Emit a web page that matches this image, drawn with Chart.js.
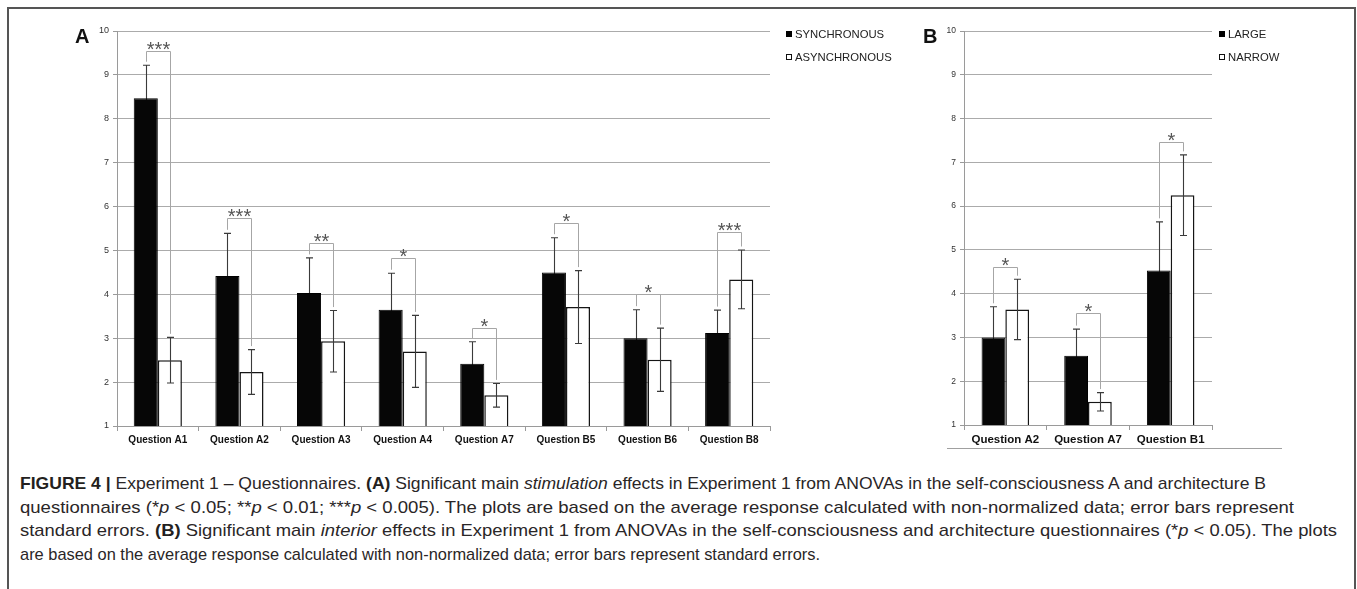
<!DOCTYPE html>
<html>
<head>
<meta charset="utf-8">
<script src="https://cdn.jsdelivr.net/npm/chart.js@4.4.0/dist/chart.umd.min.js"></script>
<style>
  html, body { margin:0; padding:0; background:#fff; }
  body { width:1357px; height:589px; position:relative; overflow:hidden; font-family:'Liberation Sans', Arial, sans-serif; }
  #frame { position:absolute; left:7px; top:7px; width:1345px; height:700px; border-top:2px solid #555; border-left:2px solid #555; border-right:2px solid #555; }
  canvas { position:absolute; top:0; }
  #cA { left:0; }
  #cB { left:880px; }
  .panel { position:absolute; font-weight:bold; font-size:20px; color:#111; line-height:20px; }
  #lineB { position:absolute; left:947px; top:448px; width:335px; height:1px; background:#a0a0a0; }
  .cap { position:absolute; left:20px; white-space:nowrap; font-family:'Liberation Sans',Arial,sans-serif; font-size:17px; line-height:20px; color:#2a2627; transform-origin:0 50%; }
  .cap b { font-weight:bold; color:#231f20; }
</style>
</head>
<body>
<div id="frame"></div>
<canvas id="cA" width="900" height="470"></canvas>
<canvas id="cB" width="470" height="470"></canvas>
<div class="panel" style="left:75px; top:26px;">A</div>
<div class="panel" style="left:923px; top:26px;">B</div>
<div id="lineB"></div>
<div id="caption"></div>
<script>
// ---------- DATA ----------
const categoriesA = ['Question A1','Question A2','Question A3','Question A4','Question A7','Question B5','Question B6','Question B8'];
const syncMean  = [8.47, 4.42, 4.03, 3.65, 2.42, 4.50, 3.00, 3.12];
const syncSE    = [0.75, 0.97, 0.80, 0.83, 0.50, 0.79, 0.65, 0.52];
const asyncMean = [2.50, 2.23, 2.93, 2.70, 1.70, 3.71, 2.51, 4.34];
const asyncSE   = [0.52, 0.51, 0.70, 0.82, 0.27, 0.83, 0.72, 0.67];
const sigA      = ['***','***','**','*','*','*','*','***'];
const bracketA  = [9.55, 5.73, 5.18, 4.82, 3.23, 5.62, 4.01, 5.43];

const categoriesB = ['Question A2','Question A7','Question B1'];
const largeMean  = [3.00, 2.58, 4.53];
const largeSE    = [0.70, 0.61, 1.11];
const narrowMean = [3.64, 1.53, 6.25];
const narrowSE   = [0.69, 0.21, 0.92];
const sigB       = ['*','*','*'];
const bracketB   = [4.62, 3.55, 7.46];

const yTicks = [1,2,3,4,5,6,7,8,9,10];

// ---------- STYLE ----------
const FONT = "'Liberation Sans', Arial, sans-serif";

function drawErr(ctx, ys, bar, mu, se) {
  const x = Math.round(bar.x) + 0.5;
  const yt = ys.getPixelForValue(mu + se);
  const yb = ys.getPixelForValue(mu - se);
  ctx.beginPath();
  ctx.moveTo(x, yt); ctx.lineTo(x, yb);
  ctx.moveTo(x - 3.5, yt); ctx.lineTo(x + 3.5, yt);
  ctx.moveTo(x - 3.5, yb); ctx.lineTo(x + 3.5, yb);
  ctx.stroke();
}

const sigPlugin = {
  id: 'sigmarks',
  beforeDatasetsDraw(chart, args, opts) {
    const ctx = chart.ctx, ys = chart.scales.y;
    const d0 = chart.data.datasets[0].data;
    ctx.save();
    ctx.strokeStyle = '#3a3a3a'; ctx.lineWidth = 1.1;
    chart.getDatasetMeta(0).data.forEach((bar, i) => drawErr(ctx, ys, bar, d0[i], opts.se[0][i]));
    ctx.restore();
  },
  afterDatasetsDraw(chart, args, opts) {
    const ctx = chart.ctx, ys = chart.scales.y;
    const m0 = chart.getDatasetMeta(0).data;
    const m1 = chart.getDatasetMeta(1).data;
    const means = [chart.data.datasets[0].data, chart.data.datasets[1].data];
    ctx.save();
    ctx.strokeStyle = '#3a3a3a'; ctx.lineWidth = 1.1;
    m1.forEach((bar, i) => drawErr(ctx, ys, bar, means[1][i], opts.se[1][i]));
    ctx.strokeStyle = '#a6a6a6';
    ctx.lineWidth = 1;
    m0.forEach((bar, i) => {
      const lx = Math.round(bar.x) + 0.5;
      const rx = Math.round(m1[i].x) + 0.5;
      const yb = Math.round(ys.getPixelForValue(opts.bracket[i])) + 0.5;
      const yl = ys.getPixelForValue(means[0][i] + opts.se[0][i] + 0.08);
      const yr = ys.getPixelForValue(means[1][i] + opts.se[1][i] + 0.08);
      ctx.beginPath();
      ctx.moveTo(lx, yl); ctx.lineTo(lx, yb); ctx.lineTo(rx, yb); ctx.lineTo(rx, yr);
      ctx.stroke();
      ctx.fillStyle = '#555';
      ctx.font = '20px ' + FONT;
      ctx.textAlign = 'center';
      ctx.textBaseline = 'alphabetic';
      ctx.fillText(opts.stars[i], (lx + rx) / 2, yb + 4.5);
    });
    ctx.restore();
  },
  afterDraw(chart, args, opts) {
    const ctx = chart.ctx;
    ctx.save();
    ctx.font = '11.3px ' + FONT;
    ctx.textAlign = 'left';
    ctx.textBaseline = 'middle';
    opts.legend.forEach((item, k) => {
      const y = opts.legendY[k];
      const x = opts.legendX;
      if (k === 0) {
        ctx.fillStyle = '#000';
        ctx.fillRect(x, y - 3, 6, 6);
      } else {
        ctx.fillStyle = '#fff';
        ctx.fillRect(x, y - 3, 6, 6);
        ctx.strokeStyle = '#111';
        ctx.lineWidth = 1;
        ctx.strokeRect(x + 0.5, y - 2.5, 5, 5);
      }
      ctx.fillStyle = '#222';
      ctx.fillText(item, x + 9, y + 0.5);
    });
    ctx.restore();
  }
};

function makeChart(id, labels, s0, s1, names, se, bracket, stars, geom) {
  return new Chart(document.getElementById(id), {
    type: 'bar',
    data: {
      labels: labels,
      datasets: [
        { label: names[0], data: s0, backgroundColor: '#060606', borderColor: '#000', borderWidth: 1,
          categoryPercentage: geom.cat, barPercentage: 1 },
        { label: names[1], data: s1, backgroundColor: '#fff', borderColor: '#151515', borderWidth: 1.5,
          categoryPercentage: geom.cat, barPercentage: 1 }
      ]
    },
    options: {
      responsive: false, animation: false, devicePixelRatio: 1,
      layout: { padding: { left: 0, right: geom.right, top: 31, bottom: geom.bottom } },
      plugins: {
        legend: { display: false }, tooltip: { enabled: false },
        sigmarks: { se: se, bracket: bracket, stars: stars, legend: names, legendX: geom.legX, legendY: [34, 57] }
      },
      scales: {
        x: {
          grid: { drawOnChartArea: false, drawTicks: true, tickLength: 5, color: '#9a9a9a' },
          border: { color: '#9a9a9a' },
          ticks: { font: { family: FONT, size: geom.xfs, weight: 'bold' }, color: '#111', padding: 3, maxRotation: 0, autoSkip: false },
          afterFit: s => { s.height = 20; }
        },
        y: {
          min: yTicks[0], max: yTicks[yTicks.length - 1],
          afterBuildTicks: s => { s.ticks = yTicks.map(v => ({ value: v })); },
          ticks: { font: { family: FONT, size: geom.yfs }, color: '#333', padding: 4 },
          grid: { color: '#ababab', tickLength: 4, tickColor: '#9a9a9a' },
          border: { color: '#9a9a9a' },
          afterFit: s => { s.width = geom.yw; }
        }
      }
    },
    plugins: [sigPlugin]
  });
}

makeChart('cA', categoriesA, syncMean, asyncMean, ['SYNCHRONOUS', 'ASYNCHRONOUS'],
  [syncSE, asyncSE], bracketA, sigA,
  { cat: 0.59, right: 130, bottom: 24, yw: 117, legX: 786, xfs: 10, yfs: 9 });
makeChart('cB', categoriesB, largeMean, narrowMean, ['LARGE', 'NARROW'],
  [largeSE, narrowSE], bracketB, sigB,
  { cat: 0.575, right: 138, bottom: 25, yw: 84, legX: 339, xfs: 11.5, yfs: 8.5 });

// ---------- CAPTION ----------
const capLines = [
  '<b>FIGURE 4</b> <b>|</b> Experiment 1 – Questionnaires. <b>(A)</b> Significant main <i>stimulation</i> effects in Experiment 1 from ANOVAs in the self-consciousness A and architecture B',
  'questionnaires (*<i>p</i> &lt; 0.05; **<i>p</i> &lt; 0.01; ***<i>p</i> &lt; 0.005). The plots are based on the average response calculated with non-normalized data; error bars represent',
  'standard errors. <b>(B)</b> Significant main <i>interior</i> effects in Experiment 1 from ANOVAs in the self-consciousness and architecture questionnaires (*<i>p</i> &lt; 0.05). The plots',
  'are based on the average response calculated with non-normalized data; error bars represent standard errors.'
];
const capY = [484, 508, 531, 555];
const capW = [1246, 1274, 1317, 800];
const capBox = document.getElementById('caption');
capLines.forEach((html, i) => {
  const d = document.createElement('div');
  d.className = 'cap';
  d.innerHTML = html;
  d.style.top = (capY[i] - 10) + 'px';
  capBox.appendChild(d);
  const w = d.getBoundingClientRect().width;
  d.style.transform = 'scaleX(' + (capW[i] / w) + ')';
});
</script>
</body>
</html>
